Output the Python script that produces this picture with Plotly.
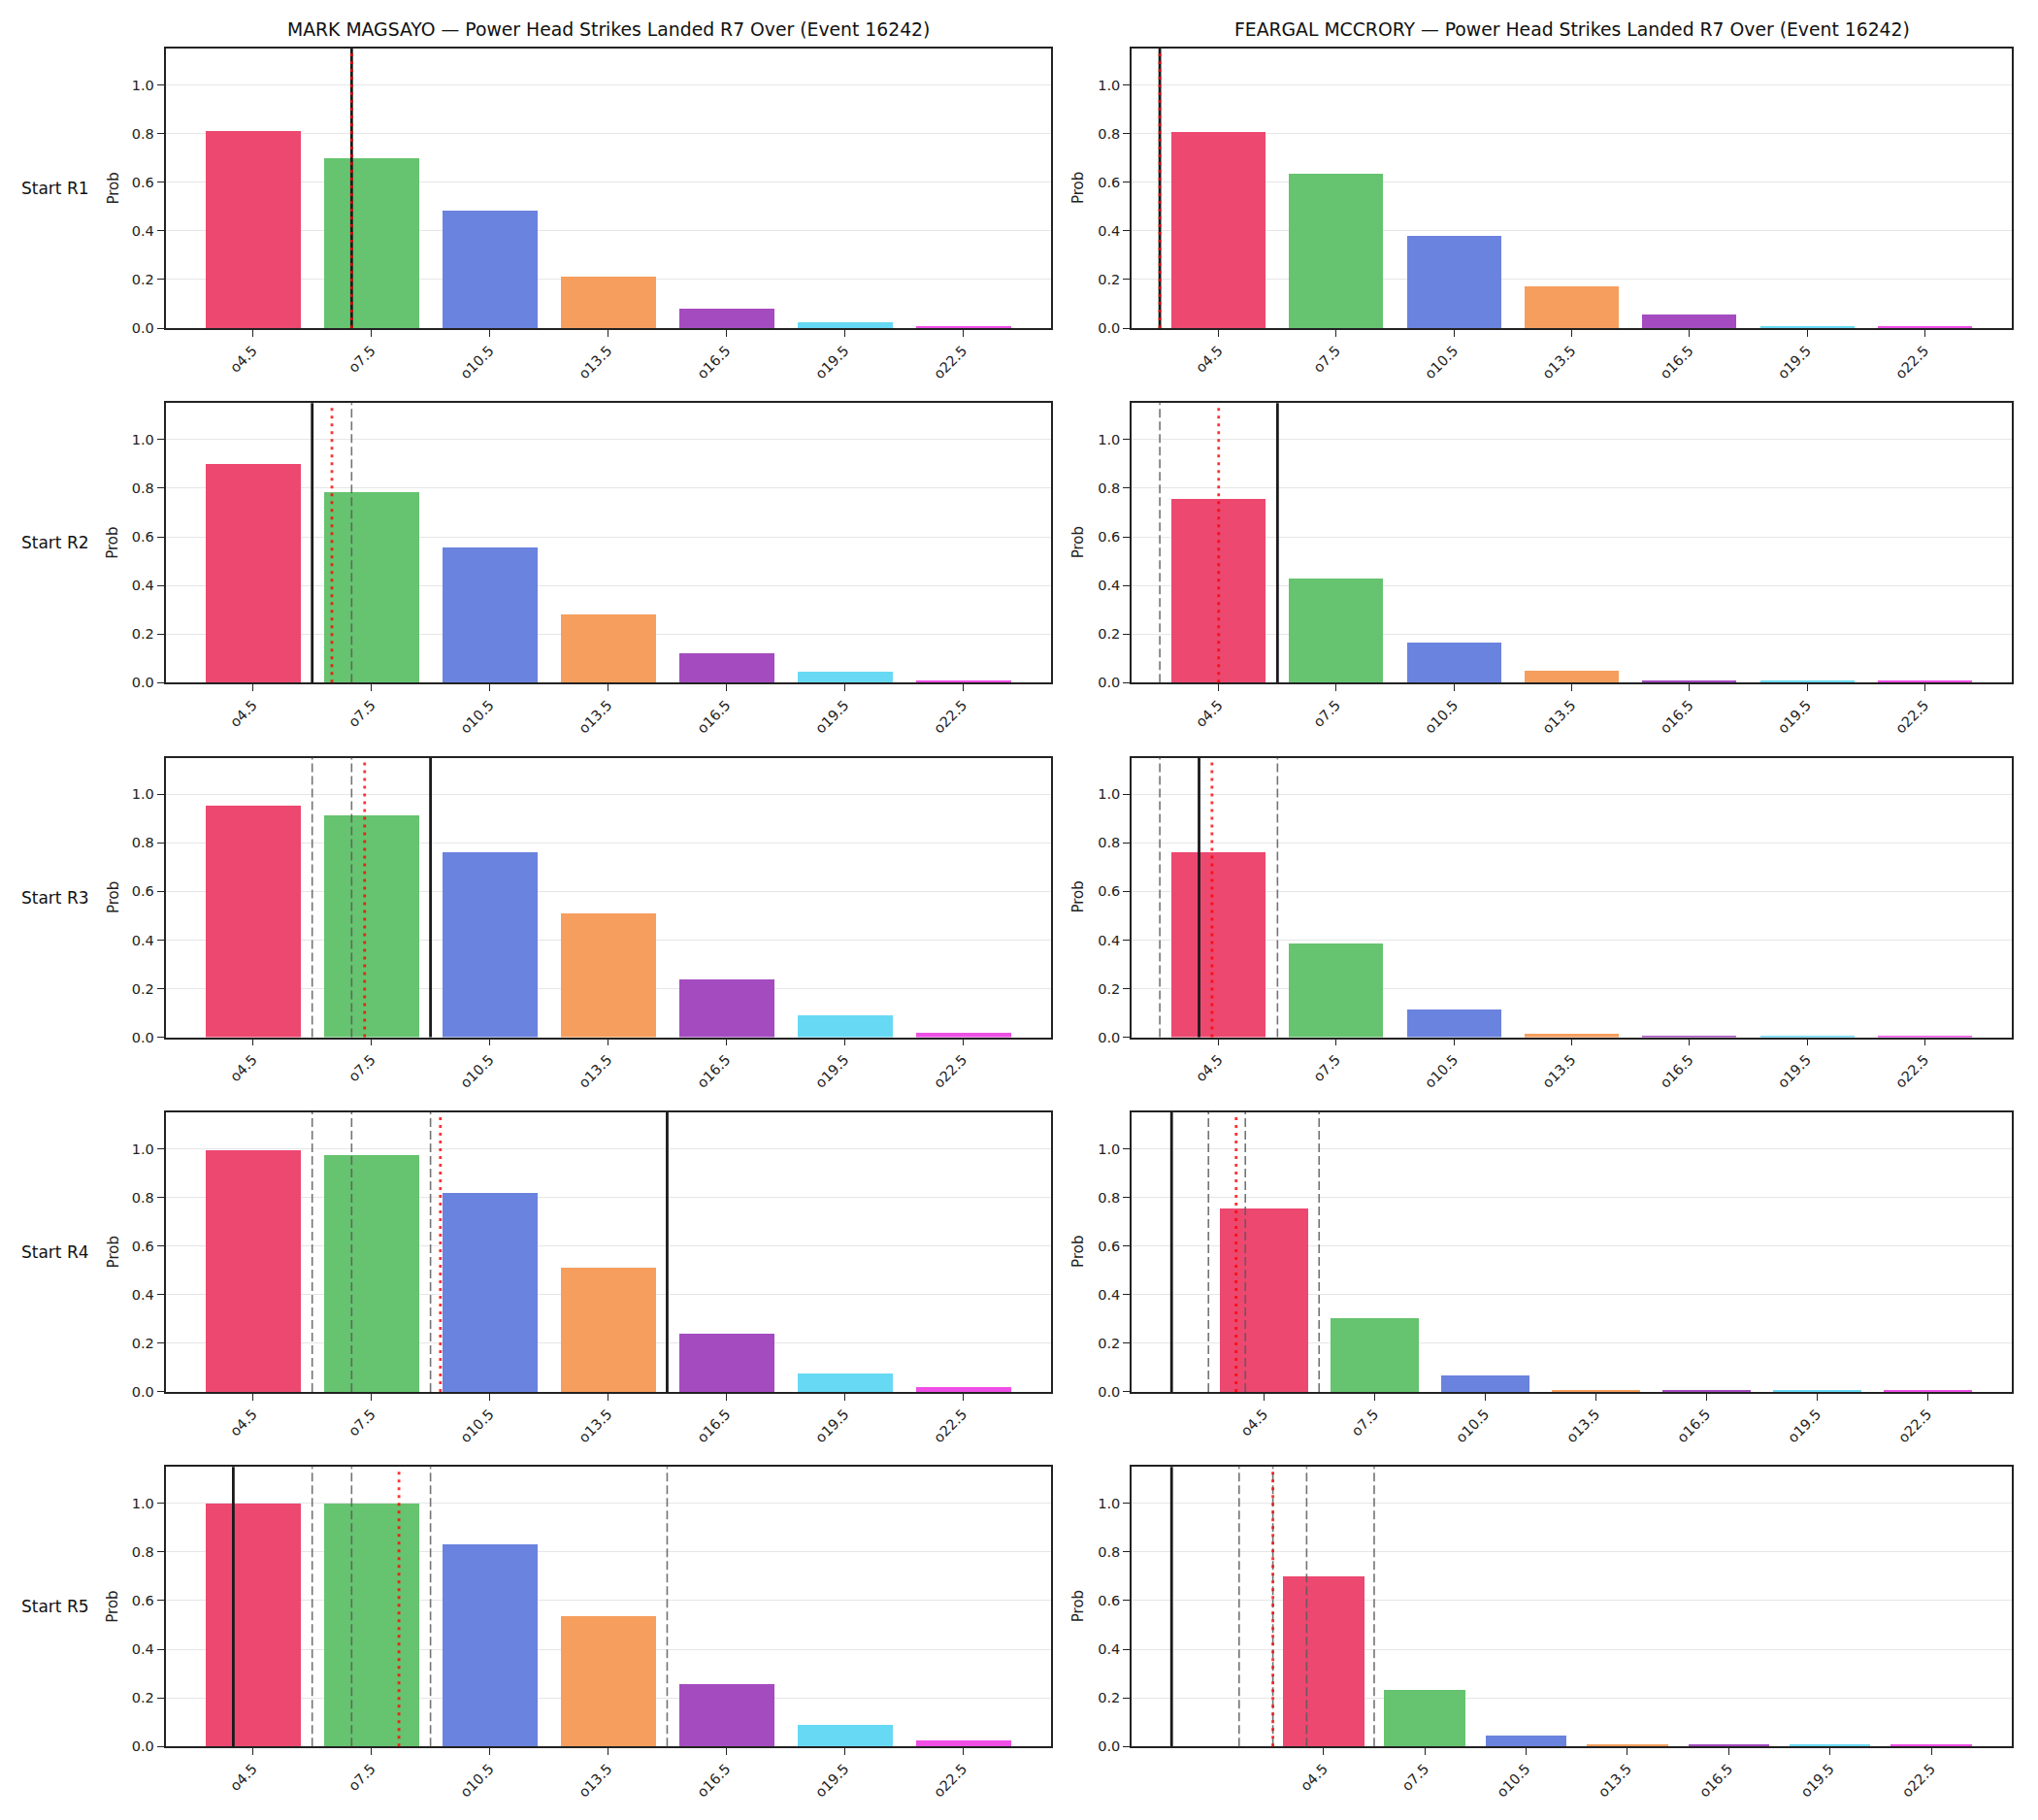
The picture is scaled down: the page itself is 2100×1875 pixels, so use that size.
import numpy as np
import plotly.graph_objects as go

# ---------------- data ----------------
categories = ["o4.5", "o7.5", "o10.5", "o13.5", "o16.5", "o19.5", "o22.5"]
thresholds = [4.5, 7.5, 10.5, 13.5, 16.5, 19.5, 22.5]
rounds = ["Start R1", "Start R2", "Start R3", "Start R4", "Start R5"]
fighters = ["MARK MAGSAYO", "FEARGAL MCCRORY"]
title_suffix = " \u2014 Power Head Strikes Landed R7 Over (Event 16242)"

magsayo_probs = [
    [0.812, 0.700, 0.483, 0.211, 0.079, 0.023, 0.007],
    [0.897, 0.784, 0.555, 0.280, 0.120, 0.043, 0.007],
    [0.953, 0.913, 0.761, 0.512, 0.241, 0.091, 0.019],
    [0.996, 0.976, 0.820, 0.511, 0.239, 0.075, 0.019],
    [0.997, 0.997, 0.829, 0.536, 0.255, 0.087, 0.023],
]
mccrory_probs = [
    [0.808, 0.636, 0.379, 0.171, 0.056, 0.006, 0.006],
    [0.753, 0.429, 0.164, 0.048, 0.007, 0.005, 0.006],
    [0.762, 0.388, 0.116, 0.016, 0.006, 0.005, 0.006],
    [0.756, 0.303, 0.067, 0.006, 0.006, 0.006, 0.006],
    [0.698, 0.233, 0.044, 0.006, 0.006, 0.005, 0.006],
]
# per-round observed count (solid line; earlier rounds shown dashed)
magsayo_round_vals = [7, 6, 9, 15, 4]
mccrory_round_vals = [3, 6, 4, 2, 0]
# running average (red dotted)
magsayo_avg = [7.0, 6.5, 7.33, 9.25, 8.2]
mccrory_avg = [3.0, 4.5, 4.33, 3.75, 3.0]

bar_colors = ["#EC4870", "#66C36F", "#6A83DE", "#F69E5D", "#A54BC0", "#67D9F4", "#F04FE6"]

probs_all = [magsayo_probs, mccrory_probs]
round_vals_all = [magsayo_round_vals, mccrory_round_vals]
avg_all = [magsayo_avg, mccrory_avg]

# ---------------- layout geometry (pixels) ----------------
W, H = 2100, 1875
col_x = [(170.5, 1082.5), (1166.0, 2073.0)]
row_top0, row_pitch, row_h = 50.0, 365.3, 288.0

FONT = "DejaVu Sans"
AX = "#222222"


def to_pos(v):
    # map a strike count onto the category-index scale of the bars
    return (v - thresholds[0]) / (thresholds[1] - thresholds[0])


fig = go.Figure()
shapes = []
annotations = []
layout_axes = {}

x_idx = list(range(len(categories)))

for c in range(2):
    for r in range(5):
        k = r * 2 + c + 1
        xs = "x" if k == 1 else f"x{k}"
        ys = "y" if k == 1 else f"y{k}"
        fig.add_trace(go.Bar(
            x=x_idx, y=probs_all[c][r], width=0.8,
            marker=dict(color=bar_colors, line=dict(color="white", width=0)),
            xaxis=xs, yaxis=ys, showlegend=False, hoverinfo="x+y",
        ))
        # lines
        prev = [to_pos(v) for v in round_vals_all[c][:r]]
        cur = to_pos(round_vals_all[c][r])
        avg = to_pos(avg_all[c][r])
        all_pos = prev + [cur, avg]
        lo_d, hi_d = -0.4, 6.4
        m = 0.05 * (hi_d - lo_d)
        lo, hi = lo_d - m, hi_d + m
        if any(p < lo or p > hi for p in all_pos):
            dlo, dhi = min([lo_d] + all_pos), max([hi_d] + all_pos)
            m = 0.05 * (dhi - dlo)
            lo, hi = dlo - m, dhi + m
        for p in prev:
            shapes.append(dict(type="line", xref=xs, yref=f"{ys} domain", x0=p, x1=p, y0=0, y1=1,
                               line=dict(color="rgba(90,90,90,0.85)", width=1.6, dash="9px,4px"), layer="above"))
        shapes.append(dict(type="line", xref=xs, yref=f"{ys} domain", x0=cur, x1=cur, y0=0, y1=1,
                           line=dict(color="#1a1a1a", width=2.8), layer="above"))
        shapes.append(dict(type="line", xref=xs, yref=f"{ys} domain", x0=avg, x1=avg, y0=0, y1=1,
                           line=dict(color="rgba(255,0,0,0.8)", width=2.8, dash="3px,5px"), layer="above"))

        x0p, x1p = col_x[c]
        top = row_top0 + r * row_pitch
        bot = top + row_h
        xname = "xaxis" if k == 1 else f"xaxis{k}"
        yname = "yaxis" if k == 1 else f"yaxis{k}"
        layout_axes[xname] = dict(
            domain=[x0p / W, x1p / W], anchor=ys, range=[lo, hi],
            tickmode="array", tickvals=x_idx, ticktext=categories, tickangle=-45,
            ticks="outside", ticklen=7, tickwidth=1.4, tickcolor=AX,
            showline=True, linecolor=AX, linewidth=1.7, mirror=True,
            showgrid=False, zeroline=False, automargin=False,
            tickfont=dict(family=FONT, size=14.5, color="#222"),
        )
        layout_axes[yname] = dict(
            domain=[1 - bot / H, 1 - top / H], anchor=xs, range=[0, 1.15],
            tickmode="array", tickvals=[0, 0.2, 0.4, 0.6, 0.8, 1.0],
            ticktext=["0.0", "0.2", "0.4", "0.6", "0.8", "1.0"],
            ticks="outside", ticklen=7, tickwidth=1.4, tickcolor=AX,
            showline=True, linecolor=AX, linewidth=1.7, mirror=True,
            showgrid=True, gridcolor="#e6e6e6", gridwidth=1, zeroline=False, automargin=False,
            tickfont=dict(family=FONT, size=14.5, color="#222"),
        )
        # y label "Prob"
        prob_x = 116.5 if c == 0 else 1111.0
        annotations.append(dict(
            text="Prob", xref="paper", yref="paper", x=prob_x / W, y=1 - (top + bot) / 2 / H,
            xanchor="center", yanchor="middle", textangle=-90, showarrow=False,
            font=dict(family=FONT, size=15, color="#222"),
        ))
        if c == 0:
            annotations.append(dict(
                text=rounds[r], xref="paper", yref="paper", x=56.5 / W, y=1 - (top + bot) / 2 / H,
                xanchor="center", yanchor="middle", showarrow=False,
                font=dict(family=FONT, size=17, color="#111"),
            ))
    # column title
    annotations.append(dict(
        text=fighters[c] + title_suffix, xref="paper", yref="paper",
        x=(col_x[c][0] + col_x[c][1]) / 2 / W, y=1 - 31 / H,
        xanchor="center", yanchor="middle", showarrow=False,
        font=dict(family=FONT, size=18.8, color="#111"),
    ))

fig.update_layout(
    width=W, height=H, margin=dict(l=0, r=0, t=0, b=0, autoexpand=False),
    paper_bgcolor="white", plot_bgcolor="white",
    shapes=shapes, annotations=annotations, bargap=0,
    font=dict(family=FONT),
    **layout_axes,
)

fig.write_html("out.html")
